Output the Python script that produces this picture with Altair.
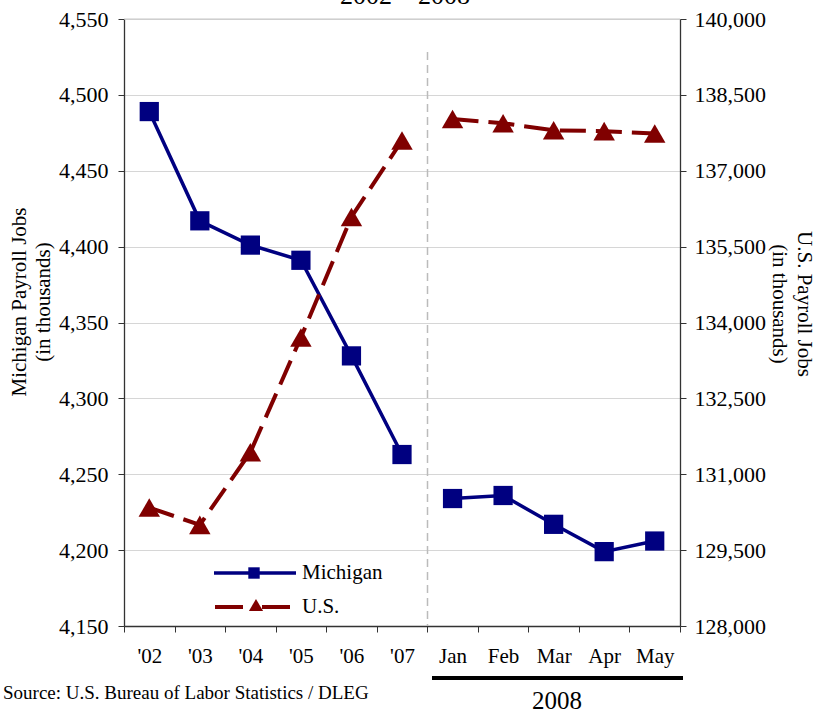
import altair as alt
import pandas as pd

# ---- data ----
categories = ["'02", "'03", "'04", "'05", "'06", "'07", "Jan", "Feb", "Mar", "Apr", "May"]
segments = ["annual"] * 6 + ["2008"] * 5
michigan = [4489, 4417, 4401, 4391, 4328, 4263, 4234, 4236, 4217, 4199, 4206]
us = [130341, 129999, 131435, 133703, 136086, 137598, 138023, 137940, 137800, 137783, 137736]
left_ticks = [4150, 4200, 4250, 4300, 4350, 4400, 4450, 4500, 4550]
right_ticks = [128000, 129500, 131000, 132500, 134000, 135500, 137000, 138500, 140000]
series_names = ["Michigan", "U.S."]

df = pd.DataFrame({"period": categories, "segment": segments, "Michigan": michigan, "US": us})
one = pd.DataFrame({"k": [0]})

W, H = 556, 607
FONT = "Liberation Serif"
NAVY = "#000080"
MAROON = "#800000"
AXC = "#333333"

xenc = alt.X(
    "period:N", sort=categories, bandPosition=0.5,
    scale=alt.Scale(type="band", paddingInner=0, paddingOuter=0),
    axis=alt.Axis(title=None, labelAngle=0, tickBand="extent", labelFontSize=21,
                  labelPadding=13, tickSize=6, domainColor=AXC, tickColor=AXC,
                  labelColor="black", labelFont=FONT, grid=False, domainWidth=1.3),
)

mi_y = alt.Y(
    "Michigan:Q", scale=alt.Scale(domain=[4150, 4550], nice=False, zero=False),
    axis=alt.Axis(orient="left", values=left_ticks, format=",d", title=None, labelFontSize=22,
                  labelFont=FONT, labelColor="black", tickSize=6, labelPadding=10,
                  domainColor=AXC, tickColor=AXC, grid=True, gridColor="#d6d6d6",
                  gridWidth=1, domainWidth=1.3),
)
us_y = alt.Y(
    "US:Q", scale=alt.Scale(domain=[128000, 140000], nice=False, zero=False),
    axis=alt.Axis(orient="right", values=right_ticks, format=",d", title=None, labelFontSize=22,
                  labelFont=FONT, labelColor="black", tickSize=6, labelPadding=8,
                  domainColor=AXC, tickColor=AXC, grid=False, domainWidth=1.3),
)

mi_line = alt.Chart(df).mark_line(color=NAVY, strokeWidth=3.5).encode(x=xenc, y=mi_y, detail="segment:N")
mi_pts = alt.Chart(df).mark_point(shape="square", filled=True, color=NAVY, size=370, opacity=1).encode(x=xenc, y=mi_y)
us_line = alt.Chart(df).mark_line(color=MAROON, strokeWidth=4, strokeDash=[26, 10]).encode(x=xenc, y=us_y, detail="segment:N")
us_pts = alt.Chart(df).mark_point(shape="triangle-up", filled=True, color=MAROON, size=460, opacity=1).encode(x=xenc, y=us_y)

# top border line and separator
top_rule = alt.Chart(one).mark_rule(color="#c8c8c8", strokeWidth=1.2).encode(
    x=alt.value(0), x2=alt.value(W), y=alt.value(0))
sep_rule = alt.Chart(one).mark_rule(color="#bbbbbb", strokeWidth=1.5, strokeDash=[8, 5]).encode(
    x=alt.value(303.5), y=alt.value(33), y2=alt.value(H))

# legend
leg_mi_line = alt.Chart(one).mark_rule(color=NAVY, strokeWidth=3.5).encode(
    x=alt.value(90), x2=alt.value(172), y=alt.value(554))
leg_mi_pt = alt.Chart(one).mark_point(shape="square", filled=True, color=NAVY, size=130, opacity=1).encode(
    x=alt.value(130), y=alt.value(554))
leg_us_line = alt.Chart(one).mark_rule(color=MAROON, strokeWidth=4, strokeDash=[28, 19]).encode(
    x=alt.value(91), x2=alt.value(166), y=alt.value(588))
leg_us_pt = alt.Chart(one).mark_point(shape="triangle-up", filled=True, color=MAROON, size=200, opacity=1).encode(
    x=alt.value(132), y=alt.value(586))
leg_text = alt.Chart(pd.DataFrame({"name": series_names, "yy": [554, 588]})).mark_text(
    align="left", baseline="middle", font=FONT, fontSize=21, color="black").encode(
    x=alt.value(178), y=alt.Y("yy:Q", scale=None), text="name:N")

# texts
title = alt.Chart(one).mark_text(text="2002 – 2008", font=FONT, fontSize=26, align="center",
                                 baseline="alphabetic", color="black").encode(x=alt.value(281), y=alt.value(-15))
source = alt.Chart(one).mark_text(text="Source: U.S. Bureau of Labor Statistics  /  DLEG", font=FONT,
                                  fontSize=19, align="left", baseline="middle", color="black").encode(
    x=alt.value(-121), y=alt.value(674))
bar = alt.Chart(one).mark_rule(color="black", strokeWidth=4).encode(
    x=alt.value(308), x2=alt.value(559), y=alt.value(659))
year = alt.Chart(one).mark_text(text="2008", font=FONT, fontSize=25, align="center", baseline="middle",
                                color="black").encode(x=alt.value(433), y=alt.value(682))
left_title = alt.Chart(one).mark_text(text=["Michigan Payroll Jobs", "(in thousands)"], font=FONT, fontSize=21,
                                      lineHeight=24, angle=270, align="center", baseline="middle",
                                      color="black").encode(x=alt.value(-104), y=alt.value(283))
right_title = alt.Chart(one).mark_text(text=["U.S. Payroll Jobs", "(in thousands)"], font=FONT, fontSize=21,
                                       lineHeight=25, angle=90, align="center", baseline="middle",
                                       color="black").encode(x=alt.value(680), y=alt.value(285))

chart = alt.layer(
    top_rule, sep_rule,
    alt.layer(mi_line, mi_pts),
    alt.layer(us_line, us_pts),
    leg_mi_line, leg_mi_pt, leg_us_line, leg_us_pt, leg_text,
    title, source, bar, year, left_title, right_title,
).resolve_scale(y="independent").properties(
    width=W, height=H,
    autosize=alt.AutoSizeParams(type="none"),
    padding={"left": 124, "top": 19, "right": 133, "bottom": 87},
).configure_view(stroke=None)

chart.save("out.html", embed_options={"renderer": "svg", "actions": False})
